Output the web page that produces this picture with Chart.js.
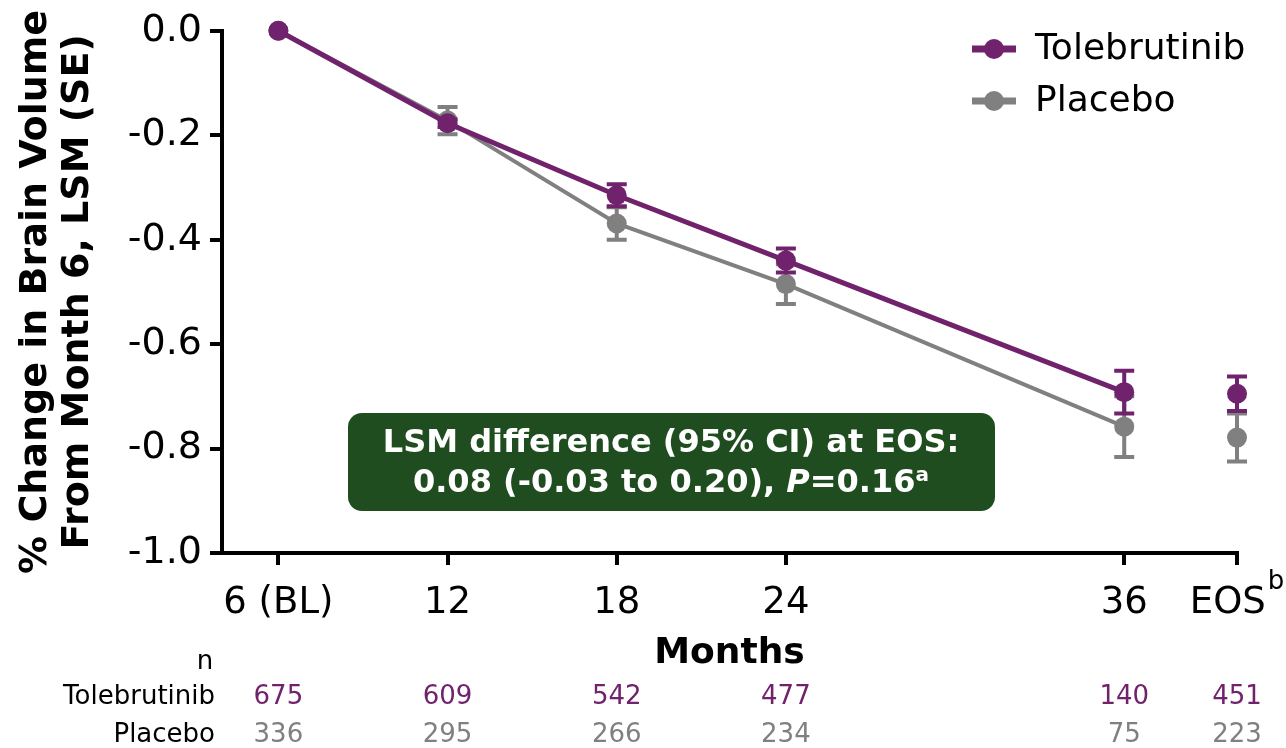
<!DOCTYPE html>
<html><head><meta charset="utf-8">
<script src="https://cdn.jsdelivr.net/npm/chart.js@4"></script>
<style>html,body{margin:0;padding:0;background:#fff;}#wrap{width:1286px;height:748px;}</style>
</head><body><div id="wrap"><canvas id="c" width="1286" height="748"></canvas></div>
<script>
// ---- data ----
const xMonths = [6, 12, 18, 24, 36, 40]; // EOS plotted after month 36
const xLabels = ['6 (BL)', '12', '18', '24', '36', 'EOS'];
const eosFootnote = 'b';
const yTicks = [0, -0.2, -0.4, -0.6, -0.8, -1.0];
const tolebrutinibLSM = [0, -0.177, -0.315, -0.440, -0.692, -0.695];
const tolebrutinibSE  = [0, 0.007, 0.021, 0.023, 0.041, 0.033];
const placeboLSM = [0, -0.172, -0.369, -0.485, -0.758, -0.779];
const placeboSE  = [0, 0.026, 0.031, 0.038, 0.058, 0.046];
const tolebrutinibN = [675, 609, 542, 477, 140, 451];
const placeboN = [336, 295, 266, 234, 75, 223];
const seriesNames = ['Tolebrutinib', 'Placebo'];
const boxLine1 = 'LSM difference (95% CI) at EOS:';
const boxLine2 = ['0.08 (-0.03 to 0.20), ', 'P', '=0.16', 'a'];

const PURPLE = '#71226c';
const GRAY = '#808080';
const FONT = '"DejaVu Sans", Verdana, sans-serif';
Chart.defaults.font.family = FONT;
const TICK_SIZE = 37;

const toPts = (ys) => ys.map((y, i) => ({x: xMonths[i], y}));
const lastIdx = xMonths.length - 1;

const errorBars = {
  id: 'errorBars',
  beforeDatasetDraw(chart, args) {
    const ds = chart.data.datasets[args.index];
    if (!ds.se) return;
    const {ctx, scales: {x, y}} = chart;
    ctx.save();
    ctx.strokeStyle = ds.borderColor;
    ctx.lineWidth = 4;
    ds.data.forEach((p, i) => {
      const se = ds.se[i];
      if (!se) return;
      const px = x.getPixelForValue(p.x);
      const y1 = y.getPixelForValue(p.y + se);
      const y2 = y.getPixelForValue(p.y - se);
      ctx.beginPath();
      ctx.moveTo(px, y1); ctx.lineTo(px, y2);
      ctx.moveTo(px - 10, y1); ctx.lineTo(px + 10, y1);
      ctx.moveTo(px - 10, y2); ctx.lineTo(px + 10, y2);
      ctx.stroke();
    });
    ctx.restore();
  }
};

const extras = {
  id: 'extras',
  afterDraw(chart) {
    const {ctx, scales: {x}} = chart;
    ctx.save();
    // EOS footnote superscript next to the tick label
    ctx.font = TICK_SIZE + 'px ' + FONT;
    const eosW = ctx.measureText(xLabels[lastIdx] + '\u2002').width;
    const eosX = x.getPixelForValue(xMonths[lastIdx]);
    const labW = ctx.measureText(xLabels[lastIdx]).width;
    ctx.font = '26px ' + FONT;
    ctx.fillStyle = '#000';
    ctx.textAlign = 'left'; ctx.textBaseline = 'middle';
    ctx.fillText(eosFootnote, eosX - eosW / 2 + labW + 2, 582);
    // legend
    const colors = [PURPLE, GRAY];
    const rowsY = [49, 101];
    seriesNames.forEach((name, i) => {
      const yy = rowsY[i];
      ctx.strokeStyle = colors[i];
      ctx.lineWidth = 7;
      ctx.beginPath(); ctx.moveTo(972, yy); ctx.lineTo(1016, yy); ctx.stroke();
      ctx.fillStyle = colors[i];
      ctx.beginPath(); ctx.arc(994, yy, 10, 0, Math.PI * 2); ctx.fill();
      ctx.fillStyle = '#000';
      ctx.font = '36px ' + FONT;
      ctx.textAlign = 'left'; ctx.textBaseline = 'middle';
      ctx.fillText(name, 1035, yy + 1);
    });
    // annotation box
    ctx.fillStyle = '#1f4d1f';
    ctx.beginPath();
    ctx.roundRect(348, 413, 647, 98, 14);
    ctx.fill();
    ctx.fillStyle = '#fff';
    ctx.textBaseline = 'middle';
    ctx.textAlign = 'center';
    const bold = 'bold 32px ' + FONT;
    const boldIt = 'italic bold 32px ' + FONT;
    const sup = 'bold 20px ' + FONT;
    ctx.font = bold;
    ctx.fillText(boxLine1, 671, 444);
    const parts = [[boxLine2[0], bold, 0], [boxLine2[1], boldIt, 0], [boxLine2[2], bold, 0], [boxLine2[3], sup, -8]];
    let total = 0;
    parts.forEach(p => { ctx.font = p[1]; total += ctx.measureText(p[0]).width; });
    let cx = 671 - total / 2;
    ctx.textAlign = 'left';
    parts.forEach(p => { ctx.font = p[1]; ctx.fillText(p[0], cx, 484 + p[2]); cx += ctx.measureText(p[0]).width; });
    // n table
    ctx.font = '26px ' + FONT;
    ctx.fillStyle = '#000';
    ctx.textAlign = 'center';
    ctx.fillText('n', 205, 662);
    ctx.textAlign = 'right';
    ctx.fillText(seriesNames[0], 215, 697);
    ctx.fillText(seriesNames[1], 215, 735);
    ctx.textAlign = 'center';
    xMonths.forEach((m, i) => {
      const px = x.getPixelForValue(m);
      ctx.fillStyle = PURPLE; ctx.fillText(String(tolebrutinibN[i]), px, 697);
      ctx.fillStyle = GRAY; ctx.fillText(String(placeboN[i]), px, 735);
    });
    ctx.restore();
  }
};

const hideLast = (color) => ({ borderColor: c => c.p1DataIndex === lastIdx ? 'rgba(0,0,0,0)' : color });

new Chart(document.getElementById('c'), {
  type: 'line',
  data: {
    datasets: [
      { label: seriesNames[0], data: toPts(tolebrutinibLSM), se: tolebrutinibSE,
        borderColor: PURPLE, backgroundColor: PURPLE, borderWidth: 5, pointRadius: 10,
        pointBorderWidth: 0, pointBackgroundColor: PURPLE, tension: 0, clip: false, segment: hideLast(PURPLE) },
      { label: seriesNames[1], data: toPts(placeboLSM), se: placeboSE,
        borderColor: GRAY, backgroundColor: GRAY, borderWidth: 4, pointRadius: 10,
        pointBorderWidth: 0, pointBackgroundColor: GRAY, tension: 0, clip: false, segment: hideLast(GRAY) }
    ]
  },
  options: {
    responsive: false, animation: false, events: [],
    layout: { padding: { left: 0, top: 29, right: 49, bottom: 0 } },
    plugins: { legend: { display: false }, tooltip: { enabled: false } },
    scales: {
      x: {
        type: 'linear', min: 4, max: 40,
        afterBuildTicks: s => { s.ticks = xMonths.map(v => ({value: v})); },
        afterFit: s => { s.height = 195; s.paddingLeft = 0; s.paddingRight = 0; },
        ticks: { font: { size: TICK_SIZE }, color: '#000', padding: 16, autoSkip: false, maxRotation: 0,
          callback: v => { const i = xMonths.indexOf(v); return i === lastIdx ? xLabels[i] + '\u2002' : xLabels[i]; } },
        grid: { drawOnChartArea: false, drawTicks: true, tickLength: 12, lineWidth: 4, color: '#000' },
        border: { display: true, color: '#000', width: 4 },
        title: { display: true, text: 'Months', color: '#000', font: { size: 36, weight: 'bold' }, padding: { top: 0, bottom: 73 } }
      },
      y: {
        min: -1, max: 0,
        afterBuildTicks: s => { s.ticks = yTicks.map(v => ({value: v})); },
        afterFit: s => { s.width = 222; },
        ticks: { font: { size: 38 }, color: '#000', padding: 8,
          callback: v => (Math.abs(v) < 1e-9 ? 0 : v).toFixed(1) },
        grid: { drawOnChartArea: false, drawTicks: true, tickLength: 12, lineWidth: 4, color: '#000' },
        border: { display: true, color: '#000', width: 4 },
        title: { display: true, text: ['% Change in Brain Volume', 'From Month 6, LSM (SE)'], color: '#000',
          font: { size: 38, weight: 'bold', lineHeight: '42px' }, padding: { top: 15, bottom: 0 } }
      }
    }
  },
  plugins: [errorBars, extras]
});
</script></body></html>
